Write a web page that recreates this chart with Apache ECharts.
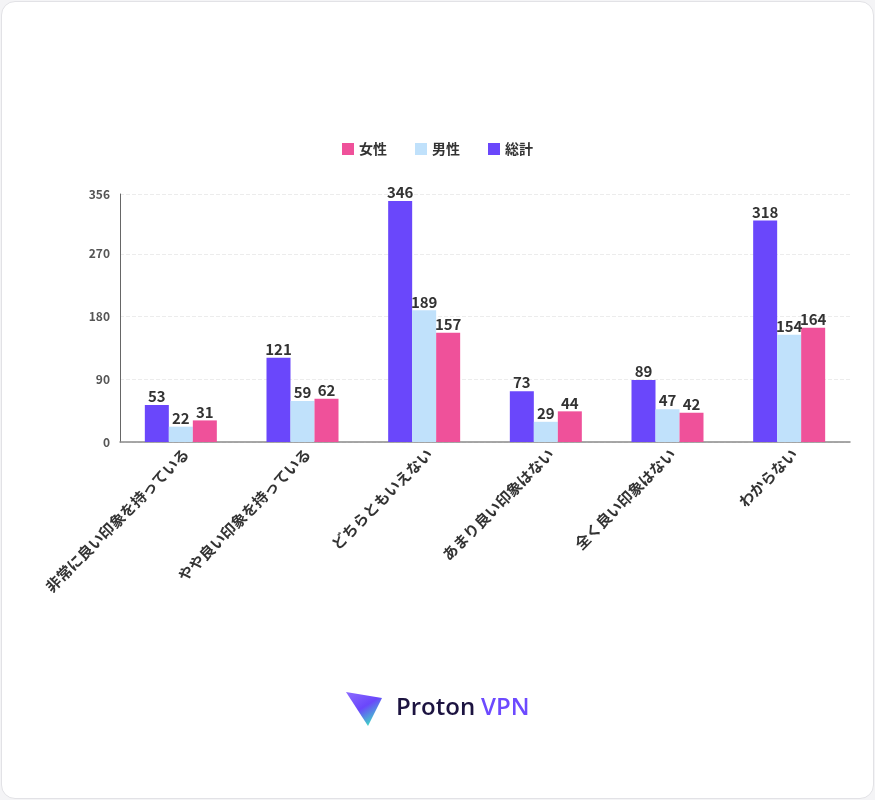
<!DOCTYPE html>
<html>
<head>
<meta charset="utf-8">
<script src="https://cdn.jsdelivr.net/npm/echarts@6/dist/echarts.min.js"></script>
<style>
  html, body { margin: 0; padding: 0; background: #f4f4f6; }
  .card {
    position: absolute; left: 1px; top: 1px; width: 871px; height: 796px;
    background: #fff; border: 1px solid #e2e2e6; border-radius: 14px; overflow: hidden;
  }
  #chart { width: 871px; height: 796px; }
</style>
</head>
<body>
<div class="card"><div id="chart"></div></div>
<script>
const categories = ['非常に良い印象を持っている', 'やや良い印象を持っている', 'どちらともいえない', 'あまり良い印象はない', '全く良い印象はない', 'わからない'];
const totalValues = [53, 121, 346, 73, 89, 318];
const maleValues = [22, 59, 189, 29, 47, 154];
const femaleValues = [31, 62, 157, 44, 42, 164];
const legendOrder = ['女性', '男性', '総計'];

const FONT = '"Noto Sans CJK JP", "Noto Sans", sans-serif';
const colors = { total: '#6a47fb', male: '#c0e1fb', female: '#ef519a' };

const chart = echarts.init(document.getElementById('chart'));

const barLabel = {
  show: true,
  position: 'top',
  distance: 1,
  color: '#333',
  fontFamily: FONT,
  fontWeight: 'bold',
  fontSize: 15,
};

chart.setOption({
  animation: false,
  textStyle: { fontFamily: FONT },
  legend: {
    data: legendOrder,
    top: 135,
    left: 'center',
    itemWidth: 12,
    itemHeight: 12,
    itemGap: 28,
    icon: 'rect',
    textStyle: { fontFamily: FONT, fontWeight: 'bold', fontSize: 14, color: '#333' },
  },
  grid: { left: 118, right: 23, top: 192, bottom: 356 },
  xAxis: {
    type: 'category',
    data: categories,
    axisLine: { lineStyle: { color: '#8a8a8a', width: 1.5 } },
    axisTick: { show: false },
    axisLabel: {
      rotate: 45,
      interval: 0,
      margin: 4,
      verticalAlign: 'top',
      color: '#333',
      fontFamily: FONT,
      fontWeight: 'bold',
      fontSize: 15,
    },
  },
  yAxis: {
    type: 'value',
    min: 0,
    max: 356,
    interval: 90,
    axisLine: { show: true, lineStyle: { color: '#666', width: 1 } },
    axisTick: { show: false },
    axisLabel: { color: '#555', fontFamily: FONT, fontWeight: 'bold', fontSize: 12, margin: 10 },
    splitLine: { lineStyle: { type: 'dashed', color: '#ececec' } },
  },
  series: [
    { name: '総計', type: 'bar', data: totalValues, barWidth: 24, barGap: '0%', itemStyle: { color: colors.total }, label: barLabel },
    { name: '男性', type: 'bar', data: maleValues, barWidth: 24, barGap: '0%', itemStyle: { color: colors.male }, label: barLabel },
    { name: '女性', type: 'bar', data: femaleValues, barWidth: 24, barGap: '0%', itemStyle: { color: colors.female }, label: barLabel },
  ],
  graphic: [
    {
      type: 'group',
      left: 344,
      top: 690,
      children: [
        {
          type: 'polygon',
          shape: { points: [[0, 2], [36, 8], [22, 36]] },
          style: {
            fill: new echarts.graphic.LinearGradient(0, 0, 0.6, 1, [
              { offset: 0, color: '#8d6bff' },
              { offset: 0.55, color: '#6a47fb' },
              { offset: 1, color: '#3fd3c8' },
            ]),
          },
        },
        {
          type: 'text',
          left: 50,
          top: 6,
          style: { text: 'Proton', fill: '#1c1340', font: '600 24px "Open Sans", "Noto Sans", sans-serif' },
        },
        {
          type: 'text',
          left: 135,
          top: 6,
          style: { text: 'VPN', fill: '#6d4aff', font: '600 24px "Open Sans", "Noto Sans", sans-serif' },
        },
      ],
    },
  ],
});
</script>
</body>
</html>
